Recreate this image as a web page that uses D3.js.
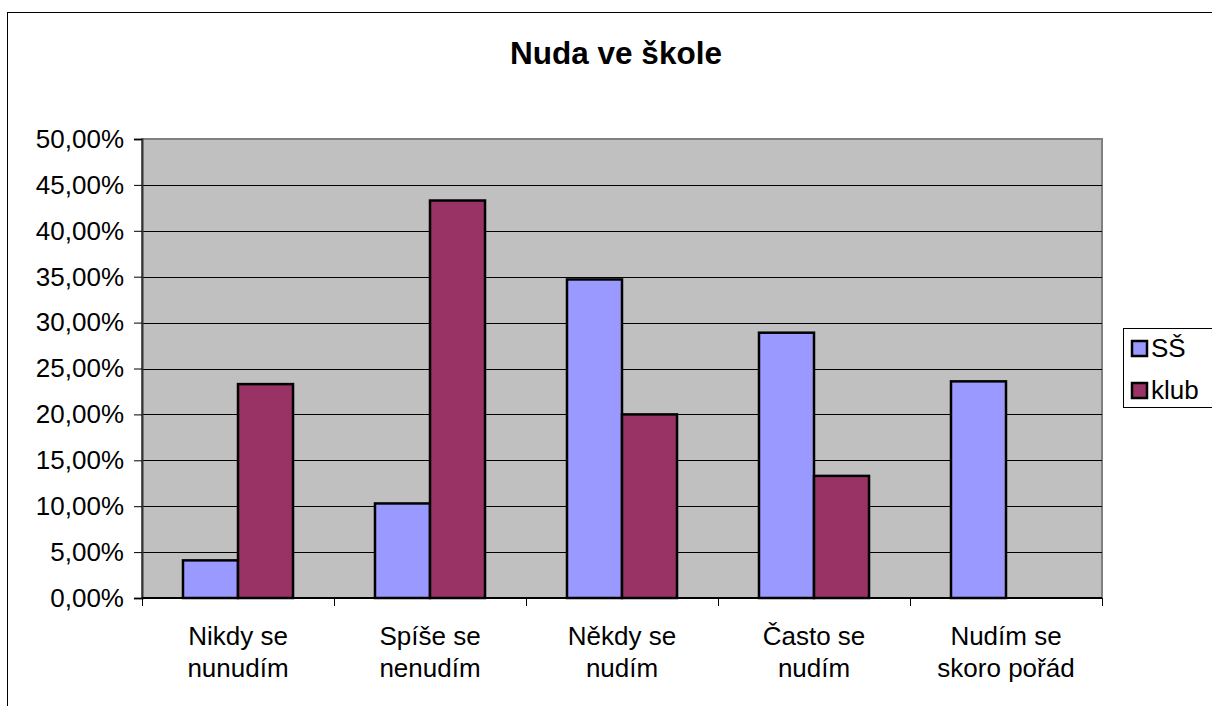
<!DOCTYPE html>
<html>
<head>
<meta charset="utf-8">
<script src="https://cdn.jsdelivr.net/npm/d3@7"></script>
<style>
  body { margin: 0; background: #fff; }
  text { font-family: "Liberation Sans", Arial, sans-serif; }
</style>
</head>
<body>
<div id="chart"></div>
<script>
// data
const categories = [["Nikdy se", "nunudím"], ["Spíše se", "nenudím"], ["Někdy se", "nudím"], ["Často se", "nudím"], ["Nudím se", "skoro pořád"]];
const seriesNames = ["SŠ", "klub"];
const valuesSS = [4.1, 10.3, 34.7, 28.9, 23.6];
const valuesKlub = [23.3, 43.3, 20.0, 13.3, 0];
const yTicks = [0, 5, 10, 15, 20, 25, 30, 35, 40, 45, 50];
const colors = ["#9999FF", "#993366"];

const W = 1212, H = 706;
const margin = {top: 139, right: 110, bottom: 108, left: 142};
const width = W - margin.left - margin.right;
const height = H - margin.top - margin.bottom;

const svg = d3.select("#chart").append("svg")
    .attr("width", W)
    .attr("height", H);

// outer chart frame
svg.append("rect")
    .attr("x", 7.5).attr("y", 12.5)
    .attr("width", 1300).attr("height", 800)
    .attr("fill", "none")
    .attr("stroke", "#000")
    .attr("stroke-width", 1);

// title
svg.append("text")
    .attr("x", 616).attr("y", 64)
    .attr("text-anchor", "middle")
    .style("font-size", "31.5px")
    .style("font-weight", "bold")
    .text("Nuda ve škole");

const g = svg.append("g")
    .attr("transform", `translate(${margin.left},${margin.top})`);

// scales
const catKeys = categories.map(c => c.join(" "));
const x0 = d3.scaleBand().domain(catKeys).range([0, width]).paddingInner(0).paddingOuter(0);
const x1 = d3.scaleBand().domain(seriesNames).range([0, x0.bandwidth()]).paddingInner(0).paddingOuter(0.745);
const y = d3.scaleLinear().domain([0, 50]).range([height, 0]);

// plot area
g.append("rect")
    .attr("width", width).attr("height", height)
    .attr("fill", "#C0C0C0")
    .attr("stroke", "#808080")
    .attr("stroke-width", 2);

// gridlines
g.selectAll(".grid")
    .data(yTicks.filter(t => t > 0 && t < 50))
    .enter().append("line")
    .attr("class", "grid")
    .attr("x1", 0).attr("x2", width)
    .attr("y1", d => Math.round(y(d)) + 0.5)
    .attr("y2", d => Math.round(y(d)) + 0.5)
    .attr("stroke", "#000")
    .attr("stroke-width", 1);

// bars
const table = catKeys.map((k, i) => ({key: k, vals: [valuesSS[i], valuesKlub[i]]}));
const groups = g.selectAll(".cat")
    .data(table)
    .enter().append("g")
    .attr("transform", d => `translate(${x0(d.key)},0)`);

groups.selectAll("rect")
    .data(d => d.vals.map((v, j) => ({name: seriesNames[j], v: v, j: j})).filter(b => b.v > 0))
    .enter().append("rect")
    .attr("x", b => x1(b.name))
    .attr("y", b => y(b.v))
    .attr("width", x1.bandwidth())
    .attr("height", b => height - y(b.v))
    .attr("fill", b => colors[b.j])
    .attr("stroke", "#000")
    .attr("stroke-width", 2.5);

// y axis
const yAxis = g.append("g")
    .call(d3.axisLeft(y)
        .tickValues(yTicks)
        .tickSize(8)
        .tickPadding(10)
        .tickFormat(d => d3.format(".2f")(d).replace(".", ",") + "%"));
yAxis.select(".domain").attr("stroke", "#333").attr("stroke-width", 2);
yAxis.selectAll(".tick line").attr("stroke", "#000");
yAxis.selectAll(".tick text")
    .style("font-size", "26px")
    .attr("fill", "#000");

// x axis: tick marks at category boundaries
const xAxis = g.append("g")
    .attr("transform", `translate(0,${height})`);
xAxis.append("line")
    .attr("x1", 0).attr("x2", width)
    .attr("y1", 0).attr("y2", 0)
    .attr("stroke", "#000").attr("stroke-width", 2);
const bounds = catKeys.map(k => x0(k)).concat([width]);
xAxis.selectAll(".xtick")
    .data(bounds)
    .enter().append("line")
    .attr("x1", d => Math.round(d) + 0.5).attr("x2", d => Math.round(d) + 0.5)
    .attr("y1", 0).attr("y2", 8)
    .attr("stroke", "#000");

// category labels (two lines)
const labels = xAxis.selectAll(".xlabel")
    .data(categories)
    .enter().append("text")
    .attr("text-anchor", "middle")
    .style("font-size", "26px")
    .attr("transform", (d, i) => `translate(${x0(catKeys[i]) + x0.bandwidth() / 2},0)`);
labels.selectAll("tspan")
    .data(d => d)
    .enter().append("tspan")
    .attr("x", 0)
    .attr("y", (d, i) => 47 + i * 32)
    .text(d => d);

// legend
const legend = svg.append("g").attr("transform", "translate(1123,328)");
legend.append("rect")
    .attr("x", 0.5).attr("y", 0.5)
    .attr("width", 110).attr("height", 79)
    .attr("fill", "#fff")
    .attr("stroke", "#000")
    .attr("stroke-width", 1);
const items = legend.selectAll(".item")
    .data(seriesNames)
    .enter().append("g")
    .attr("transform", (d, i) => `translate(9,${13 + i * 42})`);
items.append("rect")
    .attr("width", 15).attr("height", 15)
    .attr("fill", (d, i) => colors[i])
    .attr("stroke", "#000")
    .attr("stroke-width", 2.5);
items.append("text")
    .attr("x", 19).attr("y", 16)
    .style("font-size", "26px")
    .text(d => d);
</script>
</body>
</html>
